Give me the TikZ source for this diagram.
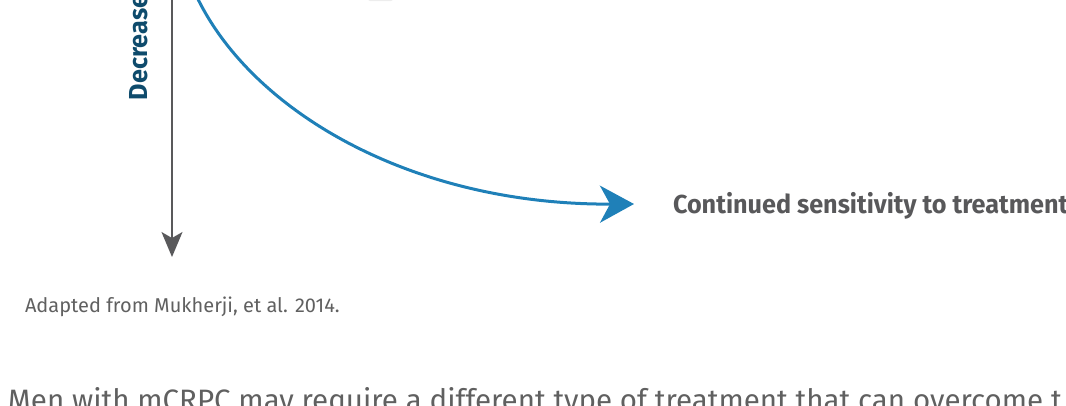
\documentclass[tikz,border=0pt]{standalone}
\usepackage{fontspec}
\setmainfont{Fira Sans}
\newfontfamily\condfont[FakeStretch=0.97]{Fira Sans}
\usetikzlibrary{arrows.meta}
\definecolor{curveblue}{HTML}{1F80B8}
\definecolor{navy}{HTML}{0E4B6C}
\definecolor{axisgray}{HTML}{59595B}
\definecolor{txtgray}{HTML}{58585A}
\definecolor{lightgray}{HTML}{606060}
\definecolor{fainttop}{HTML}{EDEDED}
\tikzset{
  lbl/.style={inner sep=0pt, outer sep=0pt, font=\condfont\bfseries\fontsize{26}{30}\selectfont},
  axisline/.style={draw=axisgray, line width=1.4pt, -{Stealth[length=25pt,width=21pt,inset=6pt]}, fill=axisgray},
  curveline/.style={draw=curveblue, line width=3pt, -{Stealth[length=34pt,width=37pt,inset=10pt]}},
  plain/.style={inner sep=0pt, outer sep=0pt, anchor=base west, text=lightgray},
}
\begin{document}
\begin{tikzpicture}[x=1pt,y=-1pt]
\useasboundingbox (0,0) rectangle (1066,405);
% faint box edge at top
\fill[fainttop, rounded corners=2pt] (368,-20) rectangle (393,1);
% vertical axis
\coordinate (axtop) at (172,-10);
\coordinate (axend) at (172,257);
\draw[axisline] (axtop) -- (axend);
% axis label
\node[lbl, text=navy, rotate=90, anchor=base west] (decr) at (147,100) {Decrease};
% outcome label
\node[lbl, text=txtgray, anchor=base west] (cont) at (673,213) {Continued sensitivity to treatment};
% curve
\coordinate (cstart) at (196,-5);
\coordinate (cend) at (634,204);
\draw[curveline] (cstart) .. controls (250,110) and (410,205) .. (cend);
% source
\node[plain, font=\fontsize{20}{24}\selectfont] (src) at (25,312) {Adapted from Mukherji, et al. 2014.};
% bottom text
\node[plain, font=\fontsize{29.5}{34}\selectfont] (men) at (8,410) {Men with mCRPC may require a different type of treatment that can overcome t};
\end{tikzpicture}
\end{document}
